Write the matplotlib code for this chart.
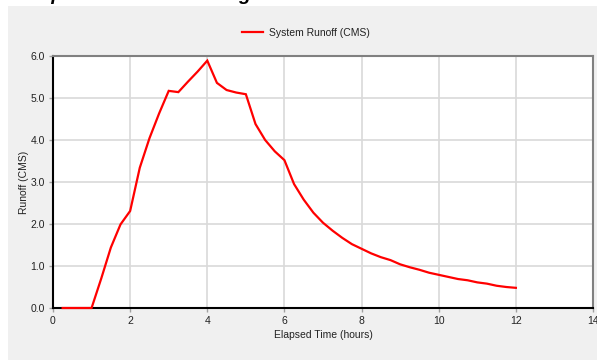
import numpy as np
import matplotlib.pyplot as plt
from matplotlib.patches import Rectangle

# Hydrograph values (hours, CMS)
time_h = [0.25, 0.5, 0.75, 1.0, 1.25, 1.5, 1.75, 2.0, 2.25, 2.5, 2.75, 3.0,
          3.25, 3.5, 3.75, 4.0, 4.25, 4.5, 4.75, 5.0, 5.25, 5.5, 5.75, 6.0,
          6.25, 6.5, 6.75, 7.0, 7.25, 7.5, 7.75, 8.0, 8.25, 8.5, 8.75, 9.0,
          9.25, 9.5, 9.75, 10.0, 10.25, 10.5, 10.75, 11.0, 11.25, 11.5, 11.75, 12.0]
runoff_cms = [0.0, 0.0, 0.0, 0.0, 0.70, 1.44, 1.99, 2.31, 3.34, 4.04, 4.63, 5.17,
              5.14, 5.39, 5.63, 5.89, 5.36, 5.19, 5.13, 5.09, 4.38, 4.00, 3.73, 3.52,
              2.95, 2.58, 2.27, 2.03, 1.84, 1.67, 1.52, 1.41, 1.30, 1.21, 1.14, 1.04,
              0.97, 0.91, 0.84, 0.79, 0.74, 0.69, 0.66, 0.61, 0.58, 0.53, 0.50, 0.48]

x_ticks = [0, 2, 4, 6, 8, 10, 12, 14]
y_ticks = [0.0, 1.0, 2.0, 3.0, 4.0, 5.0, 6.0]

plt.rcParams['font.family'] = ['Liberation Sans Narrow', 'Liberation Sans', 'DejaVu Sans']

fig = plt.figure(figsize=(5.97, 3.6), dpi=100)
fig.patch.set_facecolor('white')

# grey panel behind the chart
fig.patches.append(Rectangle((8 / 597, 0), 1 - 8 / 597, 1 - 6 / 360,
                             transform=fig.transFigure, facecolor='#f0f0f0',
                             edgecolor='none', zorder=-5))

# cut-off title at the very top (only the bottom of the letters shows)
fig.text(8 / 597, 1 + 0.5 / 360, 'Computed Runoff Routing', fontsize=14,
         fontweight='bold', fontstyle='italic', family='Liberation Sans',
         ha='left', va='baseline')

ax = fig.add_axes([53 / 597, 52 / 360, 540 / 597, 252 / 360])
ax.set_zorder(2)
ax.set_facecolor('white')
ax.plot(time_h, runoff_cms, color='#ff0000', lw=1.6, label='System Runoff (CMS)',
        zorder=4, clip_on=False, solid_joinstyle='miter')

ax.set_xlim(0, 14)
ax.set_ylim(0, 6)
ax.set_xticks(x_ticks)
ax.set_yticks(y_ticks)
ax.set_yticklabels([f'{v:.1f}' for v in y_ticks])
ax.grid(True, color='#d9d9d9', lw=1.2)
ax.set_axisbelow(True)

ax.spines['left'].set_color('black')
ax.spines['bottom'].set_color('black')
ax.spines['left'].set_linewidth(1.5)
ax.spines['bottom'].set_linewidth(1.5)
ax.spines['top'].set_color('#808080')
ax.spines['right'].set_color('#808080')
ax.spines['top'].set_linewidth(1.5)
ax.spines['right'].set_linewidth(1.5)

ax.tick_params(direction='out', length=3, width=1, color='#a0a0a0',
               labelsize=7.5, labelcolor='#222222', pad=3)

ax.set_xlabel('Elapsed Time (hours)', fontsize=7.5, color='#222222', labelpad=3)
ax.set_ylabel('Runoff (CMS)', fontsize=7.5, color='#222222', labelpad=1)

leg = fig.legend(loc='center', bbox_to_anchor=(306 / 597, 1 - 33 / 360), frameon=False,
                 fontsize=7.5, handlelength=2.0, handletextpad=0.6)
for t in leg.get_texts():
    t.set_color('#222222')

fig.savefig('out.png', dpi=100, facecolor=fig.get_facecolor())
